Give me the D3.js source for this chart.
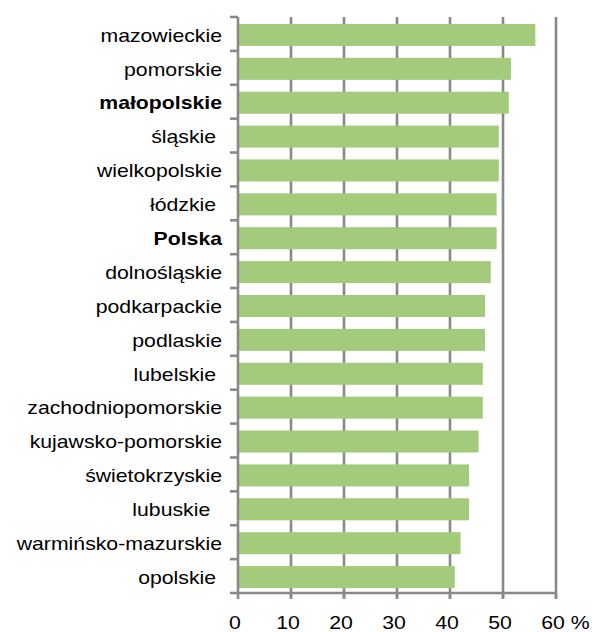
<!DOCTYPE html>
<html><head><meta charset="utf-8">
<script src="https://cdn.jsdelivr.net/npm/d3@7"></script>
<style>body{margin:0;background:#fff}text{font-family:"Liberation Sans",Arial,sans-serif;white-space:pre}</style>
</head><body>
<svg id="c" width="592" height="632"></svg>
<script>
const regions = ["mazowieckie","pomorskie","małopolskie","śląskie ","wielkopolskie","łódzkie ","Polska","dolnośląskie","podkarpackie","podlaskie","lubelskie ","zachodniopomorskie","kujawsko-pomorskie","świetokrzyskie","lubuskie  ","warmińsko-mazurskie","opolskie "];
const values = [56.1,51.5,51.1,49.2,49.2,48.8,48.8,47.7,46.6,46.6,46.2,46.2,45.4,43.6,43.6,42.0,40.9];
const boldRegions = ["małopolskie","Polska"];
const ticks = [0,10,20,30,40,50,60];

const svg = d3.select("#c");
const m = {left:238, right:556, top:17, bottom:593};
const x = d3.scaleLinear().domain([0,60]).range([m.left, m.right]);
const y = d3.scaleBand().domain(regions).range([m.top, m.bottom]).paddingInner(0.35).paddingOuter(0.175);
const grey = "#898989";
const fs = 18.8, sx = 1.13;

// gridlines
svg.append("g").selectAll("line").data(ticks.slice(1)).join("line")
  .attr("x1", d=>x(d)).attr("x2", d=>x(d)).attr("y1", m.top).attr("y2", m.bottom+5)
  .attr("stroke", grey).attr("stroke-width", 2.6);

// bars
svg.append("g").selectAll("rect").data(regions).join("rect")
  .attr("x", x(0)).attr("y", d=>y(d)+1).attr("height", y.bandwidth())
  .attr("width", (d,i)=>x(values[i])-x(0)).attr("fill", "#a4ca7b");

// left axis
const step = y.step();
const bounds = d3.range(regions.length+1).map(i=>m.top + i*step);
svg.append("line").attr("x1", m.left).attr("x2", m.left).attr("y1", m.top).attr("y2", m.bottom)
  .attr("stroke", grey).attr("stroke-width", 2.6);
svg.append("g").selectAll("line").data(bounds).join("line")
  .attr("x1", m.left-8).attr("x2", m.left).attr("y1", d=>d).attr("y2", d=>d)
  .attr("stroke", grey).attr("stroke-width", 2.6);

// bottom axis
svg.append("line").attr("x1", m.left-1).attr("x2", m.right+1).attr("y1", m.bottom).attr("y2", m.bottom)
  .attr("stroke", grey).attr("stroke-width", 2.6);
svg.append("g").selectAll("line").data(ticks).join("line")
  .attr("x1", d=>x(d)).attr("x2", d=>x(d)).attr("y1", m.bottom).attr("y2", m.bottom+6)
  .attr("stroke", grey).attr("stroke-width", 2.6);

// category labels
svg.append("g").selectAll("text").data(regions).join("text")
  .attr("transform", d=>`translate(222,${y(d)+1+y.bandwidth()/2}) scale(${sx},1)`)
  .attr("dy","0.36em")
  .attr("text-anchor","end").attr("font-size", fs)
  .attr("font-weight", d=>boldRegions.includes(d.trim())?"bold":"normal")
  .attr("fill","#000").text(d=>d);

// tick labels
const by = 629, off = -3;
const tl = svg.append("g").selectAll("text").data(ticks).join("text")
  .attr("transform", d=>`translate(${x(d)+off},${by}) scale(${sx},1)`)
  .attr("text-anchor","middle")
  .attr("font-size", fs).attr("fill","#000").text(d=>d);
const lastNode = tl.nodes()[tl.nodes().length-1];
const w = lastNode.getComputedTextLength()*sx;
svg.append("text").attr("transform", `translate(${x(60)+off+w/2},${by}) scale(${sx},1)`)
  .attr("font-size",fs).attr("fill","#000").text(" %");
</script>
</body></html>
